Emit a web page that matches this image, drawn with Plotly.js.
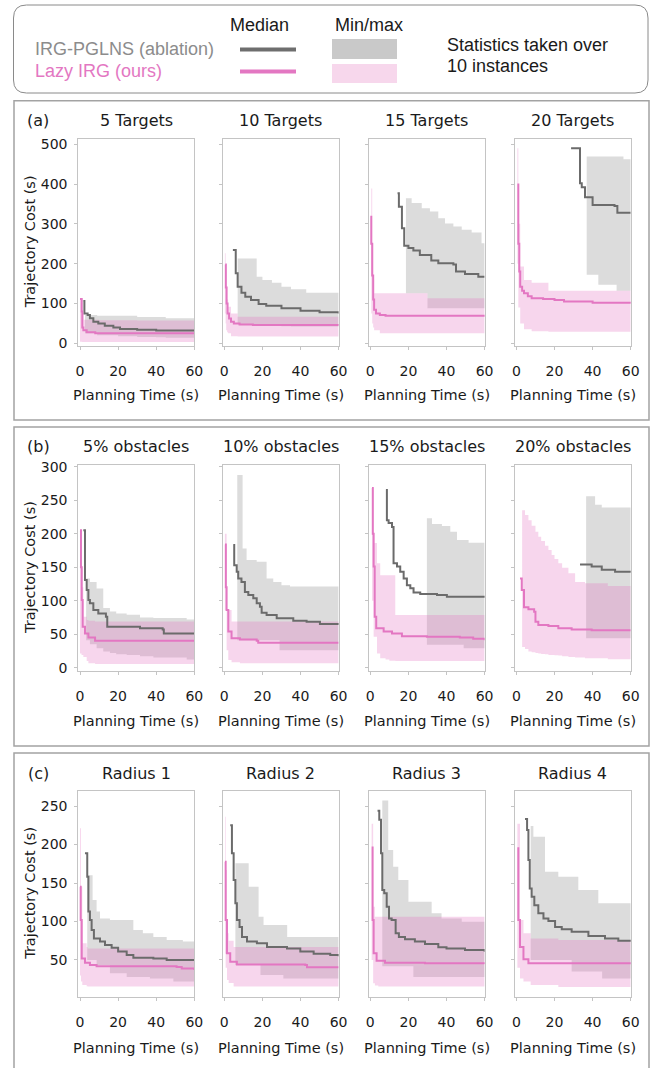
<!DOCTYPE html>
<html><head><meta charset="utf-8">
<script src="https://cdn.plot.ly/plotly-3.0.1.min.js"></script>
<style>html,body{margin:0;padding:0;background:#fff;}</style>
</head><body>
<div id="chart" style="width:654px;height:1068px;"></div>
<script>
// ---------------- Labels ----------------
const titlesA = ['5 Targets', '10 Targets', '15 Targets', '20 Targets'];
const titlesB = ['5% obstacles', '10% obstacles', '15% obstacles', '20% obstacles'];
const titlesC = ['Radius 1', 'Radius 2', 'Radius 3', 'Radius 4'];
const panelTags = ['(a)', '(b)', '(c)'];
const xTicks = [0, 20, 40, 60];
const yTicksA = [0, 100, 200, 300, 400, 500];
const yTicksB = [0, 50, 100, 150, 200, 250, 300];
const yTicksC = [50, 100, 150, 200, 250];
const seriesNames = ['IRG-PGLNS (ablation)', 'Lazy IRG (ours)'];

// ---------------- Row (a): targets ----------------
const a1_gMedT = [1.75, 2.3, 4, 5.2, 7, 9.6, 13, 17.5, 21, 30, 40, 60];
const a1_gMed  = [106, 75, 71, 63, 54, 50, 44, 40, 36, 34, 32, 31];
const a1_gBT   = [2.6, 9, 20, 30, 40, 45, 60];
const a1_gMax  = [71, 69, 69, 66, 66, 63, 63];
const a1_gMin  = [25, 20, 18, 16, 15, 14, 14];
const a1_pMedT = [0, 0.9, 1.2, 1.75, 3.5, 8, 60];
const a1_pMed  = [111, 80, 40, 33, 28, 25, 25];
const a1_pBT   = [0, 0.5, 1, 2, 10, 30, 60];
const a1_pMax  = [113, 100, 75, 59, 58, 57, 57];
const a1_pMin  = [4, 4, 3, 3, 3, 3, 3];

const a2_gMedT = [4.5, 6, 7, 9, 11, 14, 18, 22, 30, 40, 50, 60];
const a2_gMed  = [234, 176, 142, 127, 117, 109, 99, 94, 88, 82, 78, 75];
const a2_gBT   = [7, 17, 20, 25, 30, 35, 43, 60];
const a2_gMax  = [213, 167, 159, 152, 142, 136, 127, 127];
const a2_gMin  = [48, 46, 45, 44, 43, 42, 42, 42];
const a2_pMedT = [0.5, 0.8, 1.2, 1.7, 2.5, 3.5, 5, 8, 15, 60];
const a2_pMed  = [198, 140, 100, 75, 62, 54, 50, 47, 46, 45];
const a2_pBT   = [0.3, 0.7, 1, 1.5, 2, 3.5, 7, 27, 60];
const a2_pMax  = [226, 180, 142, 110, 92, 75, 67, 67, 62];
const a2_pMin  = [75, 50, 33, 28, 25, 18, 17, 17, 17];

const a3_gMedT = [14.3, 15, 16.6, 17.8, 20, 22.6, 26, 32, 35.7, 43.6, 45, 49.7, 56.7, 60];
const a3_gMed  = [377, 343, 289, 245, 239, 233, 222, 208, 201, 198, 180, 174, 167, 167];
const a3_gBT   = [18.7, 21.7, 27, 30, 31.3, 35.7, 39.2, 43.6, 48, 53.2, 58.4, 60];
const a3_gMax  = [364, 352, 339, 339, 331, 314, 301, 293, 285, 278, 251, 251];
const a3_gMin  = [126, 126, 126, 88, 88, 88, 88, 88, 88, 88, 88, 88];
const a3_pMedT = [0, 0.5, 1, 1.5, 2, 3, 5, 8, 60];
const a3_pMed  = [318, 250, 170, 110, 84, 75, 71, 69, 67];
const a3_pBT   = [0.5, 1, 1.5, 2, 5, 30, 60];
const a3_pMax  = [389, 250, 160, 126, 126, 113, 113];
const a3_pMin  = [75, 50, 40, 33, 25, 25, 25];

const a4_gMedT = [28.7, 33.4, 34.3, 36, 40, 51.5, 53, 60];
const a4_gMed  = [490, 402, 392, 367, 347, 345, 328, 328];
const a4_gBT   = [36.9, 43, 52.6, 56.2, 60];
const a4_gMax  = [469, 469, 469, 462, 462];
const a4_gMin  = [172, 147, 132, 132, 132];
const a4_pMedT = [0.5, 1, 1.5, 2, 3, 4, 6, 8, 14, 20, 25, 40, 60];
const a4_pMed  = [399, 250, 180, 142, 132, 126, 118, 113, 111, 109, 105, 102, 100];
const a4_pBT   = [0.5, 1, 2, 4, 8, 16.8, 60];
const a4_pMax  = [490, 300, 193, 159, 152, 132, 130];
const a4_pMin  = [200, 90, 50, 35, 30, 29, 29];

// ---------------- Row (b): obstacles ----------------
const b1_gMedT = [1.75, 2.6, 3.5, 4.4, 5.2, 7, 9.6, 13.6, 14.3, 31.5, 43.4, 44, 60];
const b1_gMed  = [205, 131, 116, 101, 96, 86, 81, 76, 61, 59, 57, 51, 51];
const b1_gBT   = [3.2, 5.2, 8.7, 12.2, 15.7, 19, 24.5, 31.5, 38.5, 56, 60];
const b1_gMax  = [133, 128, 118, 89, 84, 81, 79, 75, 74, 72, 72];
const b1_gMin  = [41, 35, 29, 24, 22, 20, 19, 17, 15, 12, 11];
const b1_pMedT = [0, 0.5, 0.9, 1.4, 2.6, 4.4, 7.9, 60];
const b1_pMed  = [205, 150, 101, 61, 51, 45, 40, 40];
const b1_pBT   = [0, 0.8, 1.75, 3.5, 4.4, 7.9, 60];
const b1_pMax  = [205, 120, 76, 71, 70, 69, 67];
const b1_pMin  = [21, 19, 16, 10, 6.5, 5.5, 5.5];

const b2_gMedT = [4.7, 5.2, 6.5, 7.3, 9, 10.8, 12.6, 15.2, 17, 18.7, 19.6, 22.2, 27.5, 36.2, 43.2, 50.2, 60];
const b2_gMed  = [183, 153, 143, 133, 128, 113, 108.5, 103.6, 96, 91, 82, 78.7, 73.7, 70, 68.7, 65, 64];
const b2_gBT   = [6.8, 9.6, 11.7, 17, 22.2, 25.7, 29, 30, 34.5, 60];
const b2_gMax  = [287.6, 178, 160.7, 158, 133, 128, 128, 123, 121, 121];
const b2_gMin  = [41, 41, 41, 41, 41, 41, 26, 26, 26, 26];
const b2_pMedT = [0.35, 0.8, 1.2, 2.1, 3.8, 8.2, 17, 17.8, 60];
const b2_pMed  = [184, 120, 86, 54, 44, 42, 40, 37, 37];
const b2_pBT   = [0.3, 1.2, 2.1, 3.8, 8.2, 60];
const b2_pMax  = [200, 86, 86, 69, 69, 69];
const b2_pMin  = [86, 26, 11.5, 8, 6.5, 6.5];

const b3_gMedT = [8.2, 8.7, 9.6, 11.4, 12.2, 14, 15.7, 17.5, 19.2, 21, 22.7, 26.2, 35, 40.2, 60];
const b3_gMed  = [265, 220, 216, 210, 156, 151, 143, 133, 123, 118.5, 112, 110, 108.5, 106, 104.5];
const b3_gBT   = [29.7, 32.4, 37.6, 42, 45.5, 49, 51.6, 60];
const b3_gMax  = [223, 214.5, 211.5, 203, 190.6, 190.6, 186.6, 186.6];
const b3_gMin  = [34, 34, 34, 34, 34, 29, 29, 29];
const b3_pMedT = [0.9, 1.3, 1.75, 2.3, 3.1, 7, 11.4, 16.6, 29.7, 47, 54, 60];
const b3_pMed  = [268, 200, 151, 76, 59, 54, 51, 47, 46, 45, 43, 41];
const b3_pBT   = [0.9, 1.75, 3.5, 5.2, 8, 10, 13.1, 60];
const b3_pMax  = [268, 186, 156, 138, 138, 138, 78.6, 72];
const b3_pMin  = [100, 46, 21, 14, 12, 10.4, 10, 8.7];

const b4_gMedT = [33.4, 39.5, 44.8, 51.8, 60];
const b4_gMed  = [154, 151, 146, 143, 142];
const b4_gBT   = [36.6, 41.3, 44.8, 60];
const b4_gMax  = [256, 243, 239, 236];
const b4_gMin  = [44, 44, 44, 44];
const b4_pMedT = [1.9, 2.8, 4, 6.3, 9.3, 10, 11.5, 16.8, 22, 29, 39.5, 60];
const b4_pMed  = [133, 116, 90, 87, 83.6, 68.7, 63.7, 62, 59, 57, 56, 56];
const b4_pBT   = [3, 4.5, 6.3, 8, 10, 11.5, 13, 15, 16.8, 18.5, 20, 22, 24, 27.3, 30.8, 36, 48, 60];
const b4_pMax  = [235, 228, 220, 212, 203, 195.5, 189, 182, 175.6, 168, 162, 155.7, 149, 140.8, 128, 126, 122, 120];
const b4_pMin  = [31, 28, 24, 23, 22, 21, 20.5, 20, 19, 19, 18.5, 18, 17, 16, 15, 14, 12.5, 11.5];

// ---------------- Row (c): radius ----------------
const c1_gMedT = [2.6, 3.8, 4.4, 5.2, 6.1, 7.3, 10.5, 13.1, 16.6, 20, 24.5, 28, 38.5, 45.5, 60];
const c1_gMed  = [188.5, 158, 113, 102, 89, 78, 74, 69.5, 66, 61, 56.5, 53, 52, 50, 50];
const c1_gBT   = [3.8, 6.6, 8.7, 10.5, 15.7, 24.5, 28, 33, 36.7, 38.5, 45.5, 49, 54, 60];
const c1_gMax  = [160, 128, 113, 104, 102, 102, 89, 84.6, 84.6, 80, 76, 76, 74, 74];
const c1_gMin  = [50, 50, 43.5, 43.5, 32.7, 28, 28, 28, 26, 26, 26, 22, 22, 22];
const c1_pMedT = [0, 0.35, 0.9, 2.6, 5.2, 8.7, 50.7, 53.4, 60];
const c1_pMed  = [145, 102, 52, 46.5, 43.5, 42, 41, 39, 37];
const c1_pBT   = [0, 0.5, 1.2, 3.5, 4, 60];
const c1_pMax  = [221, 145, 71.6, 67, 65, 62];
const c1_pMin  = [30, 22, 17.5, 16, 15.4, 13];

const c2_gMedT = [3.1, 4, 4.9, 5.8, 6.6, 8, 9.3, 11.9, 17.1, 22.4, 32.9, 39.9, 46.9, 55.6, 60];
const c2_gMed  = [225, 188.5, 154, 123.6, 102, 93, 80, 74, 71.6, 67, 65, 61, 58, 56.5, 55];
const c2_gBT   = [5.8, 12.8, 18, 19, 20.6, 31, 33, 60];
const c2_gMax  = [175.5, 145, 106, 106, 95.5, 95.5, 80, 80];
const c2_gMin  = [43.5, 43.5, 43.5, 30.5, 30.5, 26, 26, 26];
const c2_pMedT = [0.35, 0.7, 1.4, 3.1, 6.6, 42.5, 43.4, 60];
const c2_pMed  = [177.7, 102, 58.7, 47.8, 44, 43.5, 40.5, 40.5];
const c2_pBT   = [0.35, 0.7, 1.4, 2.3, 4.9, 60];
const c2_pMax  = [236, 167, 84.6, 75, 67, 63];
const c2_pMin  = [58, 40, 24, 20, 15.4, 13];

const c3_gMedT = [3.8, 4.7, 5.6, 6.3, 7.3, 8.6, 9.8, 11.2, 13.3, 15, 18.2, 23.4, 28.7, 35.7, 40, 49.7, 60];
const c3_gMed  = [244, 232, 188.5, 141, 136.6, 119, 104, 102, 84.6, 80, 77, 74, 70.8, 66.5, 65, 63, 60.8];
const c3_gBT   = [6.3, 9.4, 12, 14.7, 20, 22.6, 32.2, 37.4, 48, 60];
const c3_gMax  = [257, 193, 171, 154, 125.8, 125.8, 110.6, 104, 99.8, 99.8];
const c3_gMin  = [42, 42, 42, 42, 42, 28, 28, 28, 28, 28];
const c3_pMedT = [0.7, 1.2, 1.75, 3.3, 7.7, 28.7, 60];
const c3_pMed  = [196, 102, 58.7, 49, 46.5, 45.7, 44.8];
const c3_pBT   = [0.7, 1.5, 2.4, 4.2, 60];
const c3_pMax  = [227, 119, 106, 106, 106];
const c3_pMin  = [50, 19.7, 17, 15.4, 13];

const c4_gMedT = [4.5, 5.6, 6.3, 7, 8, 9.4, 11.5, 14.2, 16.8, 20.3, 23.8, 29, 37.8, 46.5, 53.5, 60];
const c4_gMed  = [233, 219, 180, 143, 132, 121, 110.6, 104, 100.6, 93, 90, 86.8, 81, 78, 75, 73.8];
const c4_gBT   = [7.5, 8.9, 15, 22, 29, 32.5, 43, 45, 60];
const c4_gMax  = [224, 210, 164.7, 158, 158, 141, 123.6, 123.6, 123.6];
const c4_gMin  = [50, 50, 50, 50, 35, 35, 35, 26, 26];
const c4_pMedT = [0.5, 1, 1.9, 3.7, 6.3, 60];
const c4_pMed  = [195, 102, 67, 51, 45.7, 44.4];
const c4_pBT   = [0.5, 1.9, 3.7, 7.5, 22, 60];
const c4_pMax  = [227, 102, 84.6, 78, 76, 74];
const c4_pMin  = [40, 26, 22, 17.5, 15, 13];

// ---------------- Assemble ----------------
const W = 654, H = 1068;
const FONT = 'DejaVu Sans, sans-serif';
const LFONT = 'Liberation Sans, Arial, sans-serif';
const GRAY_BAND = 'rgba(150,150,150,0.33)';
const PINK_BAND = 'rgba(227,119,194,0.30)';
const GRAY_LINE = '#6b6b6b';
const PINK_LINE = '#e377c2';

const subplotData = [
  [a1_gMedT,a1_gMed,a1_gBT,a1_gMax,a1_gMin,a1_pMedT,a1_pMed,a1_pBT,a1_pMax,a1_pMin],
  [a2_gMedT,a2_gMed,a2_gBT,a2_gMax,a2_gMin,a2_pMedT,a2_pMed,a2_pBT,a2_pMax,a2_pMin],
  [a3_gMedT,a3_gMed,a3_gBT,a3_gMax,a3_gMin,a3_pMedT,a3_pMed,a3_pBT,a3_pMax,a3_pMin],
  [a4_gMedT,a4_gMed,a4_gBT,a4_gMax,a4_gMin,a4_pMedT,a4_pMed,a4_pBT,a4_pMax,a4_pMin],
  [b1_gMedT,b1_gMed,b1_gBT,b1_gMax,b1_gMin,b1_pMedT,b1_pMed,b1_pBT,b1_pMax,b1_pMin],
  [b2_gMedT,b2_gMed,b2_gBT,b2_gMax,b2_gMin,b2_pMedT,b2_pMed,b2_pBT,b2_pMax,b2_pMin],
  [b3_gMedT,b3_gMed,b3_gBT,b3_gMax,b3_gMin,b3_pMedT,b3_pMed,b3_pBT,b3_pMax,b3_pMin],
  [b4_gMedT,b4_gMed,b4_gBT,b4_gMax,b4_gMin,b4_pMedT,b4_pMed,b4_pBT,b4_pMax,b4_pMin],
  [c1_gMedT,c1_gMed,c1_gBT,c1_gMax,c1_gMin,c1_pMedT,c1_pMed,c1_pBT,c1_pMax,c1_pMin],
  [c2_gMedT,c2_gMed,c2_gBT,c2_gMax,c2_gMin,c2_pMedT,c2_pMed,c2_pBT,c2_pMax,c2_pMin],
  [c3_gMedT,c3_gMed,c3_gBT,c3_gMax,c3_gMin,c3_pMedT,c3_pMed,c3_pBT,c3_pMax,c3_pMin],
  [c4_gMedT,c4_gMed,c4_gBT,c4_gMax,c4_gMin,c4_pMedT,c4_pMed,c4_pBT,c4_pMax,c4_pMin]
];

const colLefts = [78.3, 222.6, 368.6, 514.7];
const plotW = 116;
const rowsGeom = [
  {top: 139, bot: 345.7, range: [-6, 513], ticks: yTicksA, titles: titlesA, titleY: 120.7, xlabY: 395},
  {top: 465, bot: 671, range: [-5, 302.5], ticks: yTicksB, titles: titlesB, titleY: 446.7, xlabY: 721},
  {top: 791, bot: 996.7, range: [2.3, 269.5], ticks: yTicksC, titles: titlesC, titleY: 773.3, xlabY: 1048}
];
const panelBoxes = [[100.7, 420], [427, 746], [753, 1075]];

const px = v => v / W;
const py = v => 1 - v / H;

const traces = [];
const layout = {
  width: W, height: H,
  margin: {l: 0, r: 0, t: 0, b: 0},
  paper_bgcolor: '#ffffff', plot_bgcolor: '#ffffff',
  showlegend: false,
  annotations: [], shapes: []
};

function lineTrace(x, y, color, ax, ay) {
  return {x: x, y: y, type: 'scatter', mode: 'lines', line: {color: color, width: 2, shape: 'hv'},
          xaxis: ax, yaxis: ay, hoverinfo: 'skip', showlegend: false};
}
function bandTraces(x, hi, lo, color, ax, ay) {
  return [
    {x: x, y: hi, type: 'scatter', mode: 'lines', line: {width: 0, shape: 'hv'}, xaxis: ax, yaxis: ay, hoverinfo: 'skip', showlegend: false},
    {x: x, y: lo, type: 'scatter', mode: 'lines', line: {width: 0, shape: 'hv'}, fill: 'tonexty', fillcolor: color, xaxis: ax, yaxis: ay, hoverinfo: 'skip', showlegend: false}
  ];
}

for (let r = 0; r < 3; r++) {
  const g = rowsGeom[r];
  for (let c = 0; c < 4; c++) {
    const k = r * 4 + c + 1;
    const axx = 'x' + (k === 1 ? '' : k), axy = 'y' + (k === 1 ? '' : k);
    const d = subplotData[k - 1];
    traces.push(...bandTraces(d[2], d[3], d[4], GRAY_BAND, axx, axy));
    traces.push(...bandTraces(d[7], d[8], d[9], PINK_BAND, axx, axy));
    traces.push(lineTrace(d[0], d[1], GRAY_LINE, axx, axy));
    traces.push(lineTrace(d[5], d[6], PINK_LINE, axx, axy));

    const L = colLefts[c];
    layout['xaxis' + (k === 1 ? '' : k)] = {
      domain: [px(L), px(L + plotW)], anchor: axy, range: [-0.9, 60],
      tickmode: 'array', tickvals: xTicks, ticktext: xTicks.map(String),
      showline: true, mirror: true, linecolor: '#c4c4c4', linewidth: 1,
      ticks: 'outside', ticklen: 3, tickcolor: '#c4c4c4', tickwidth: 1,
      showgrid: false, zeroline: false, ticklabelstandoff: 9,
      tickfont: {family: FONT, size: 14, color: '#1a1a1a'}, fixedrange: true
    };
    layout['yaxis' + (k === 1 ? '' : k)] = {
      domain: [py(g.bot), py(g.top)], anchor: axx, range: g.range,
      tickmode: 'array', tickvals: g.ticks, ticktext: g.ticks.map(String),
      showticklabels: c === 0,
      showline: true, mirror: true, linecolor: '#c4c4c4', linewidth: 1,
      ticks: 'outside', ticklen: 3, tickcolor: '#c4c4c4', tickwidth: 1,
      showgrid: false, zeroline: false, ticklabelstandoff: 4,
      tickfont: {family: FONT, size: 14, color: '#1a1a1a'}, fixedrange: true
    };
    // subplot title
    layout.annotations.push({text: g.titles[c], xref: 'paper', yref: 'paper', x: px(L + plotW / 2), y: py(g.titleY),
      xanchor: 'center', yanchor: 'middle', showarrow: false, font: {family: FONT, size: 16, color: '#1a1a1a'}});
    // x axis label
    layout.annotations.push({text: 'Planning Time (s)', xref: 'paper', yref: 'paper', x: px(L + plotW / 2), y: py(g.xlabY),
      xanchor: 'center', yanchor: 'middle', showarrow: false, font: {family: FONT, size: 14.5, color: '#1a1a1a'}});
  }
  // y axis label
  layout.annotations.push({text: 'Trajectory Cost (s)', xref: 'paper', yref: 'paper', x: px(30), y: py((g.top + g.bot) / 2),
    xanchor: 'center', yanchor: 'middle', textangle: -90, showarrow: false, font: {family: FONT, size: 14.5, color: '#1a1a1a'}});
  // panel tag
  layout.annotations.push({text: panelTags[r], xref: 'paper', yref: 'paper', x: px(38.3), y: py(g.titleY),
    xanchor: 'center', yanchor: 'middle', showarrow: false, font: {family: FONT, size: 16, color: '#1a1a1a'}});
  // panel box
  const pb = panelBoxes[r];
  layout.shapes.push({type: 'rect', xref: 'paper', yref: 'paper', x0: px(14), x1: px(649), y0: py(pb[1]), y1: py(pb[0]),
    line: {color: '#a3a3a3', width: 1.5}, fillcolor: 'rgba(0,0,0,0)', layer: 'below'});
}

// ---------------- Legend box ----------------
(function () {
  const x0 = 13.5, x1 = 648, y0 = 5, y1 = 93, rr = 13;
  const P = (x, y) => px(x) + ',' + py(y);
  const path = 'M ' + P(x0 + rr, y0) + ' L ' + P(x1 - rr, y0) + ' Q ' + P(x1, y0) + ' ' + P(x1, y0 + rr) +
    ' L ' + P(x1, y1 - rr) + ' Q ' + P(x1, y1) + ' ' + P(x1 - rr, y1) +
    ' L ' + P(x0 + rr, y1) + ' Q ' + P(x0, y1) + ' ' + P(x0, y1 - rr) +
    ' L ' + P(x0, y0 + rr) + ' Q ' + P(x0, y0) + ' ' + P(x0 + rr, y0) + ' Z';
  layout.shapes.push({type: 'path', xref: 'paper', yref: 'paper', path: path, line: {color: '#8a8a8a', width: 1}});
  // median swatches
  layout.shapes.push({type: 'line', xref: 'paper', yref: 'paper', x0: px(240), x1: px(296), y0: py(49.5), y1: py(49.5), line: {color: '#6e6e6e', width: 4}});
  layout.shapes.push({type: 'line', xref: 'paper', yref: 'paper', x0: px(240), x1: px(296), y0: py(71.5), y1: py(71.5), line: {color: PINK_LINE, width: 4}});
  // min/max swatches
  layout.shapes.push({type: 'rect', xref: 'paper', yref: 'paper', x0: px(332), x1: px(397), y0: py(59), y1: py(39), line: {width: 0}, fillcolor: '#c9c9c9'});
  layout.shapes.push({type: 'rect', xref: 'paper', yref: 'paper', x0: px(332), x1: px(397), y0: py(83), y1: py(64), line: {width: 0}, fillcolor: '#f7d7ec'});
  const la = (text, x, y, anchor, color) => layout.annotations.push({text: text, xref: 'paper', yref: 'paper', x: px(x), y: py(y),
    xanchor: anchor, yanchor: 'middle', showarrow: false, font: {family: LFONT, size: 18, color: color}});
  la('Median', 259, 25, 'center', '#1a1a1a');
  la('Min/max', 368.5, 25, 'center', '#1a1a1a');
  la(seriesNames[0], 33, 49, 'left', '#8c8c8c');
  la(seriesNames[1], 33, 70.5, 'left', PINK_LINE);
  la('Statistics taken over', 445, 45, 'left', '#1a1a1a');
  la('10 instances', 445, 66, 'left', '#1a1a1a');
})();

Plotly.newPlot('chart', traces, layout, {staticPlot: true, displayModeBar: false});
</script>
</body></html>
